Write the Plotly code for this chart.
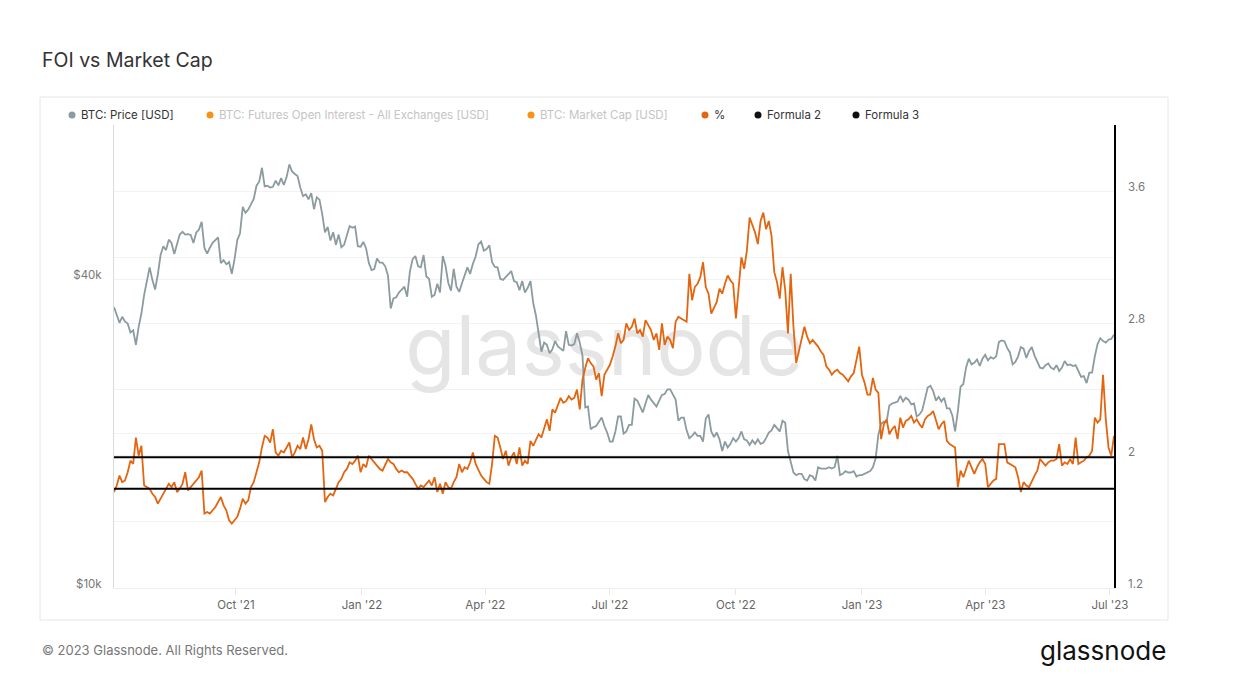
import pandas as pd
import plotly.graph_objects as go

title = "FOI vs Market Cap"
start_date = "2021-07-04"  # one reading every 2 days from here

# BTC price, thousands of USD (one row per month)
price_k = [
    35.3, 34.2, 32.9, 33.8, 33.1, 32.8, 31.5, 31.8, 29.8, 32.3, 34.3, 37.3, 40.0, 42.2,
    39.9, 38.2, 40.9, 44.6, 46.4, 45.6, 47.8, 47.1, 44.8, 46.7, 48.9, 49.5, 48.9, 49.0, 48.8, 47.1,
    49.3, 50.0, 51.8, 46.1, 44.9, 46.1, 47.1, 47.7, 48.3, 43.0, 43.6, 42.8, 43.2, 41.0, 43.8,
    47.7, 49.2, 55.4, 53.9, 54.7, 56.0, 57.4, 60.9, 62.0, 66.0, 60.7, 60.9, 60.4, 60.6, 62.3,
    61.0, 63.0, 61.1, 63.3, 67.0, 64.9, 64.2, 63.6, 60.4, 58.1, 58.6, 57.3, 58.9, 54.8, 57.8,
    57.2, 53.6, 49.4, 50.6, 47.6, 49.4, 46.7, 48.9, 46.2, 46.7, 49.0, 50.8, 50.4, 50.7, 46.4, 46.3,
    47.3, 46.0, 43.1, 41.7, 41.9, 43.9, 43.1, 43.1, 42.4, 40.7, 35.1, 36.7, 36.9, 37.7, 38.2,
    38.7, 37.0, 41.4, 43.8, 44.4, 42.4, 42.2, 44.6, 40.5, 40.1, 37.0, 37.3, 39.2, 37.7,
    44.4, 42.5, 39.4, 38.0, 41.9, 38.7, 37.8, 39.3, 40.9, 42.2, 41.0, 42.9, 44.3, 46.8, 47.4, 45.5,
    45.8, 46.6, 43.2, 42.3, 42.2, 40.1, 39.9, 40.4, 40.8, 41.5, 39.7, 39.5, 38.1, 39.7, 37.7,
    38.5, 39.7, 36.0, 34.0, 31.0, 28.9, 30.1, 29.8, 28.7, 29.2, 30.3, 29.6, 29.3, 29.0, 31.7,
    29.8, 29.7, 29.9, 31.4, 30.1, 28.4, 22.5, 22.6, 20.4, 20.6, 20.7, 21.1, 21.5, 20.7, 20.1,
    19.3, 19.3, 20.2, 21.6, 21.6, 20.0, 20.2, 20.8, 20.8, 23.4, 23.2, 22.6, 22.0, 22.9, 23.8, 23.3,
    23.0, 22.6, 23.2, 23.8, 23.9, 24.4, 24.4, 23.9, 23.3, 21.2, 21.5, 21.5, 20.3, 19.6, 19.8,
    20.1, 19.8, 19.8, 19.3, 21.4, 21.8, 20.2, 19.7, 20.1, 19.5, 18.5, 19.3, 18.8, 19.1, 19.6,
    19.3, 19.6, 20.2, 19.5, 19.4, 19.0, 19.4, 19.1, 19.5, 19.1, 19.2, 19.6, 20.1, 20.3, 20.8, 20.5,
    20.2, 21.2, 21.0, 18.5, 17.6, 16.8, 16.6, 16.7, 16.7, 16.3, 16.2, 16.6, 16.5, 16.2, 17.2,
    17.1, 17.1, 17.1, 17.2, 17.1, 17.2, 18.1, 16.6, 16.7, 16.9, 16.8, 16.8, 16.9, 16.5, 16.6,
    16.6, 16.7, 16.8, 16.9, 17.2, 17.9, 19.9, 20.9, 21.1, 21.1, 22.7, 22.9, 23.0, 23.1, 23.7, 23.1,
    23.5, 23.3, 22.8, 22.9, 21.6, 21.8, 22.2, 23.5, 24.6, 24.8, 24.2, 23.2, 23.6, 23.1,
    23.5, 22.4, 22.4, 21.7, 20.2, 22.1, 24.7, 25.0, 26.9, 28.0, 27.3, 27.5, 27.9, 27.1, 28.0,
    28.5, 27.8, 28.2, 28.0, 28.3, 30.2, 30.4, 30.3, 29.4, 28.8, 27.3, 27.6, 28.3, 29.5, 29.3,
    28.1, 29.0, 29.5, 28.4, 27.7, 26.9, 26.8, 27.2, 27.4, 26.9, 26.7, 27.2, 26.5, 26.9, 27.7, 27.2,
    27.3, 27.1, 27.2, 26.5, 25.8, 25.9, 25.1, 26.3, 26.3, 28.3, 29.9, 30.7, 30.3, 30.1, 30.5,
    30.6, 31.2,
]

# futures open interest / market cap, %
pct = [
    1.78, 1.82, 1.88, 1.84, 1.85, 1.90, 1.97, 1.95, 2.11, 2.00,
    2.06, 1.82, 1.81, 1.80, 1.77, 1.75, 1.71, 1.74, 1.77, 1.80,
    1.83, 1.81, 1.84, 1.78, 1.80, 1.83, 1.90, 1.79, 1.81, 1.83,
    1.85, 1.87, 1.91, 1.65, 1.66, 1.65, 1.67, 1.69, 1.72, 1.75,
    1.70, 1.67, 1.61, 1.59, 1.61, 1.63, 1.68, 1.74, 1.71, 1.73,
    1.81, 1.84, 1.90, 1.96, 2.05, 2.12, 2.11, 2.08, 2.16, 2.02,
    2.00, 2.03, 2.02, 2.05, 2.08, 1.99, 2.02, 2.06, 2.04, 2.11,
    2.04, 2.10, 2.19, 2.10, 2.05, 2.06, 2.03, 1.72, 1.75, 1.77,
    1.76, 1.80, 1.84, 1.86, 1.90, 1.92, 1.96, 1.95, 1.97, 2.00,
    1.90, 1.95, 1.93, 2.00, 1.98, 1.96, 1.94, 1.92, 1.91, 1.95,
    1.98, 1.96, 1.95, 1.92, 1.90, 1.91, 1.90, 1.90, 1.88, 1.86,
    1.83, 1.80, 1.82, 1.81, 1.83, 1.85, 1.82, 1.87, 1.78, 1.83,
    1.77, 1.84, 1.81, 1.80, 1.84, 1.87, 1.95, 1.90, 1.93, 1.92,
    1.96, 2.02, 1.95, 1.91, 1.88, 1.86, 1.84, 1.83, 1.95, 2.12,
    2.11, 2.05, 1.98, 2.03, 1.94, 1.99, 2.02, 1.95, 2.05, 1.94,
    1.97, 1.95, 2.09, 2.06, 2.10, 2.13, 2.11, 2.16, 2.22, 2.15,
    2.28, 2.26, 2.30, 2.35, 2.32, 2.33, 2.36, 2.34, 2.35, 2.40,
    2.28, 2.46, 2.53, 2.59, 2.56, 2.54, 2.46, 2.50, 2.36, 2.49,
    2.52, 2.55, 2.60, 2.66, 2.74, 2.68, 2.70, 2.80, 2.76, 2.78,
    2.83, 2.74, 2.76, 2.72, 2.82, 2.79, 2.76, 2.70, 2.74, 2.64,
    2.80, 2.67, 2.72, 2.70, 2.65, 2.81, 2.84, 2.83, 2.82, 2.81,
    3.10, 2.94, 3.02, 3.04, 3.08, 3.17, 3.02, 2.98, 2.86, 2.90,
    2.93, 3.01, 2.98, 3.04, 3.09, 3.06, 3.04, 2.83, 3.00, 3.20,
    3.13, 3.24, 3.44, 3.39, 3.35, 3.28, 3.42, 3.47, 3.37, 3.42,
    3.33, 3.11, 3.05, 2.95, 3.14, 3.00, 2.74, 3.10, 2.78, 2.56,
    2.64, 2.70, 2.78, 2.72, 2.68, 2.70, 2.68, 2.66, 2.63, 2.61,
    2.54, 2.52, 2.49, 2.51, 2.52, 2.50, 2.49, 2.47, 2.45, 2.48,
    2.50, 2.58, 2.66, 2.49, 2.44, 2.37, 2.37, 2.47, 2.40, 2.38,
    2.10, 2.19, 2.22, 2.13, 2.16, 2.18, 2.10, 2.23, 2.17, 2.21,
    2.22, 2.24, 2.20, 2.22, 2.19, 2.17, 2.22, 2.24, 2.25, 2.27,
    2.22, 2.16, 2.19, 2.21, 2.09, 2.07, 2.06, 2.05, 1.81, 1.91,
    1.87, 1.92, 1.97, 1.93, 1.89, 1.93, 1.96, 1.98, 1.95, 1.81,
    1.83, 1.85, 1.86, 2.07, 2.07, 2.07, 1.96, 1.95, 1.94, 1.93,
    1.87, 1.78, 1.84, 1.82, 1.81, 1.85, 1.88, 1.91, 1.98, 1.96,
    1.94, 1.96, 1.97, 1.97, 1.98, 2.07, 1.94, 1.96, 1.95, 1.98,
    1.95, 2.11, 1.95, 1.96, 1.97, 1.99, 2.00, 2.03, 2.23, 2.20,
    2.22, 2.49, 2.22, 2.05, 2.00, 2.12,
]

formula2 = 1.99
formula3 = 1.80

legend_labels = ["BTC: Price [USD]", "BTC: Futures Open Interest - All Exchanges [USD]",
                 "BTC: Market Cap [USD]", "%", "Formula 2", "Formula 3"]

x_tickvals = ["2021-10-01", "2022-01-01", "2022-04-01", "2022-07-01",
              "2022-10-01", "2023-01-01", "2023-04-01", "2023-07-01"]
left_tickvals = [10000, 20000, 40000]
left_ticktext = ["$10k", "", "$40k"]
right_tickvals = [1.2, 1.6, 2.0, 2.4, 2.8, 3.2, 3.6, 4.0]
right_ticktext = ["1.2", "", "2", "", "2.8", "", "3.6", ""]

price_dates = pd.date_range(start_date, periods=len(price_k), freq="2D")
pct_dates = pd.date_range(start_date, periods=len(pct), freq="2D")
price = [p * 1000 for p in price_k]
x_end = max(price_dates[-1], pct_dates[-1])

GREY = "#8b9b9f"
ORANGE = "#e4650f"
LIGHT_ORANGE = "#f7931a"
FONT = "Inter"

# the page body has an 8px margin, so the figure starts at (8, 8) of the window
OFF = 8
W, H = 1227, 674
# plot area in window pixels
L, R, T, B = 114, 1114, 125, 588


def px_x(x):
    return (x - L) / (R - L)


def px_y(y):
    return (B - y) / (B - T)


fig = go.Figure()

# watermark, sits under the lines
fig.add_trace(go.Scatter(x=["2022-06-27"], y=[28500], mode="text", text=["glassnode"],
                         textfont=dict(family=FONT, size=82, color="#e5e5e5"),
                         hoverinfo="skip", showlegend=False))

fig.add_trace(go.Scatter(x=price_dates, y=price, mode="lines", name=legend_labels[0],
                         line=dict(color=GREY, width=1.8), showlegend=False))

fig.add_trace(go.Scatter(x=pct_dates, y=pct, mode="lines", name=legend_labels[3], yaxis="y2",
                         line=dict(color=ORANGE, width=1.8), showlegend=False))

for name, val in [(legend_labels[4], formula2), (legend_labels[5], formula3)]:
    fig.add_trace(go.Scatter(x=[pct_dates[0], x_end], y=[val, val], mode="lines", name=name,
                             yaxis="y2", line=dict(color="black", width=2), showlegend=False))

# hand made legend (dot + label)
legend_items = [
    (legend_labels[0], 72, GREY, "#333333"),
    (legend_labels[1], 210, LIGHT_ORANGE, "#c4c4c4"),
    (legend_labels[2], 531, LIGHT_ORANGE, "#c4c4c4"),
    (legend_labels[3], 705, ORANGE, "#333333"),
    (legend_labels[4], 758, "#111111", "#333333"),
    (legend_labels[5], 856, "#111111", "#333333"),
]
shapes = [dict(type="rect", xref="paper", yref="paper", x0=px_x(40), x1=px_x(1168),
               y0=px_y(620), y1=px_y(97), line=dict(color="#e6e6e6", width=1),
               fillcolor="rgba(0,0,0,0)", layer="below")]
annotations = []
for label, dx, dot, tcol in legend_items:
    shapes.append(dict(type="circle", xref="paper", yref="paper",
                       xsizemode="pixel", ysizemode="pixel",
                       xanchor=px_x(dx), yanchor=px_y(115),
                       x0=-3.5, x1=3.5, y0=-3.5, y1=3.5,
                       fillcolor=dot, line=dict(width=0)))
    annotations.append(dict(text=label, x=px_x(dx + 7), y=px_y(115), xref="paper", yref="paper",
                            xanchor="left", yanchor="middle", showarrow=False,
                            font=dict(family=FONT, size=11.5, color=tcol)))

annotations += [
    dict(text=title, x=px_x(40), y=px_y(60), xref="paper", yref="paper",
         xanchor="left", yanchor="middle", showarrow=False,
         font=dict(family=FONT, size=19.5, color="#333333")),
    dict(text="© 2023 Glassnode. All Rights Reserved.", x=px_x(40), y=px_y(650),
         xref="paper", yref="paper", xanchor="left", yanchor="middle", showarrow=False,
         font=dict(family=FONT, size=13, color="#777777")),
    dict(text="glassnode", x=px_x(1168), y=px_y(650), xref="paper", yref="paper",
         xanchor="right", yanchor="middle", showarrow=False,
         font=dict(family=FONT, size=26, color="#111111")),
]

fig.update_layout(
    width=W, height=H,
    margin=dict(l=L - OFF, r=W + OFF - R, t=T - OFF, b=H + OFF - B, pad=0),
    paper_bgcolor="white", plot_bgcolor="white",
    font=dict(family=FONT, size=11.5, color="#777777"),
    showlegend=False,
    hovermode=False,
    shapes=shapes,
    annotations=annotations,
    xaxis=dict(type="date", range=[pct_dates[0], x_end], tickvals=x_tickvals,
               tickformat="%b '%y", showgrid=False, zeroline=False,
               ticks="outside", ticklen=6, tickcolor="#e8e8e8",
               showline=True, linecolor="#eeeeee",
               tickfont=dict(size=11.5, color="#666666")),
    yaxis=dict(type="log", range=[4, 4.903], tickvals=left_tickvals, ticktext=left_ticktext,
               showgrid=True, gridcolor="#f2f2f2", zeroline=False,
               showline=True, linecolor="#d5dcdf", linewidth=1,
               ticks="outside", ticklen=9, tickcolor="rgba(0,0,0,0)", ticklabelshift=-4,
               tickfont=dict(size=11.5, color="#777777")),
    yaxis2=dict(overlaying="y", side="right", range=[1.2, 4.0],
                tickvals=right_tickvals, ticktext=right_ticktext,
                showgrid=True, gridcolor="#f2f2f2", zeroline=False,
                showline=True, linecolor="black", linewidth=1.5,
                ticks="outside", ticklen=10, tickcolor="rgba(0,0,0,0)", ticklabelshift=-4,
                tickfont=dict(size=11.5, color="#777777")),
)

fig.write_html("out.html")
